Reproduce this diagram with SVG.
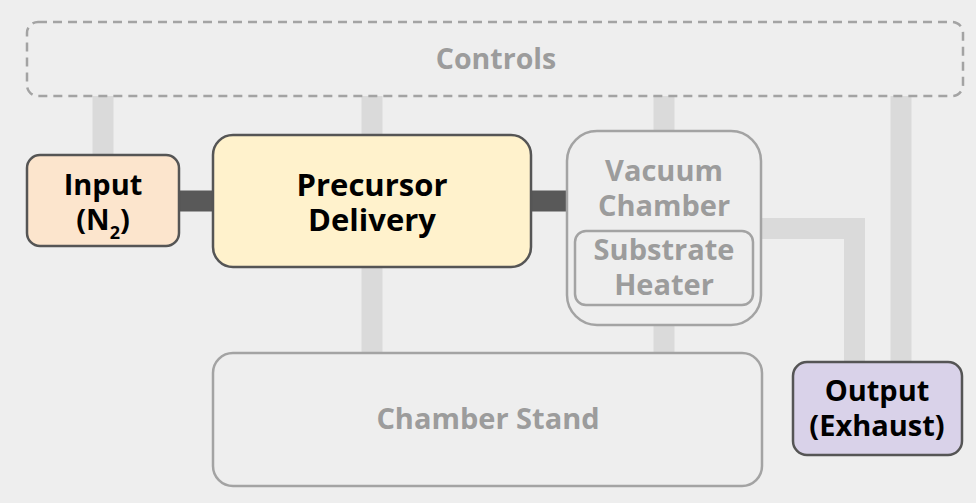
<svg xmlns="http://www.w3.org/2000/svg" width="976" height="503" viewBox="0 0 976 503">
<style>
.t{font-family:"Open Sans","Liberation Sans",sans-serif;font-weight:bold;text-anchor:middle}
.dk{fill:#000;font-size:29px}
.gr{fill:#9c9c9c;font-size:29px}
.big{font-size:31px}
.ctl{font-size:28.5px}
.sub{font-size:18px}
.lt{stroke:#dadada;stroke-width:21;fill:none}
.dl{stroke:#595959;stroke-width:21;fill:none}
.act{stroke:#555;stroke-width:2.5}
.ghost{stroke:#a3a3a3;stroke-width:2.5;fill:none}
</style>
<rect width="976" height="503" fill="#eeeeee"/>
<g id="connectors">
<line class="lt" x1="103" y1="96" x2="103" y2="156"/>
<line class="lt" x1="372" y1="96" x2="372" y2="136"/>
<line class="lt" x1="664" y1="96" x2="664" y2="132"/>
<line class="lt" x1="901" y1="96" x2="901" y2="363"/>
<line class="lt" x1="372" y1="266" x2="372" y2="354"/>
<line class="lt" x1="664" y1="325" x2="664" y2="354"/>
<polyline class="lt" points="761,228.5 854.5,228.5 854.5,363"/>
<line class="dl" x1="178" y1="201" x2="214" y2="201"/>
<line class="dl" x1="530" y1="201" x2="568" y2="201"/>
</g>
<g id="controls">
<rect x="27" y="22" width="936" height="74" rx="11" fill="none" stroke="#a3a3a3" stroke-width="2.5" stroke-dasharray="9,6"/>
<text class="t gr ctl" x="496" y="69">Controls</text>
</g>
<g id="input">
<rect class="act" x="27" y="155" width="152" height="91" rx="13" fill="#fce5cd"/>
<text class="t dk" x="103" y="195">Input</text>
<text class="t dk" x="103" y="230">(N<tspan class="sub" dy="9">2</tspan><tspan dy="-9">)</tspan></text>
</g>
<g id="precursor">
<rect class="act" x="213" y="135" width="318" height="132" rx="20" fill="#fff2cc"/>
<text class="t dk big" x="372" y="196">Precursor</text>
<text class="t dk big" x="372" y="231">Delivery</text>
</g>
<g id="vacuum">
<rect class="ghost" x="567" y="131" width="194" height="194" rx="30"/>
<text class="t gr" x="664" y="181">Vacuum</text>
<text class="t gr" x="664" y="216">Chamber</text>
</g>
<g id="heater">
<rect class="ghost" x="575" y="231" width="178" height="74" rx="11"/>
<text class="t gr" x="664" y="260">Substrate</text>
<text class="t gr" x="664" y="295">Heater</text>
</g>
<g id="stand">
<rect class="ghost" x="213" y="353" width="549" height="133" rx="20"/>
<text class="t gr" x="488" y="429">Chamber Stand</text>
</g>
<g id="output">
<rect class="act" x="793" y="362" width="169" height="93" rx="14" fill="#d9d2e9"/>
<text class="t dk" x="877" y="401">Output</text>
<text class="t dk" x="877" y="436">(Exhaust)</text>
</g>
</svg>
